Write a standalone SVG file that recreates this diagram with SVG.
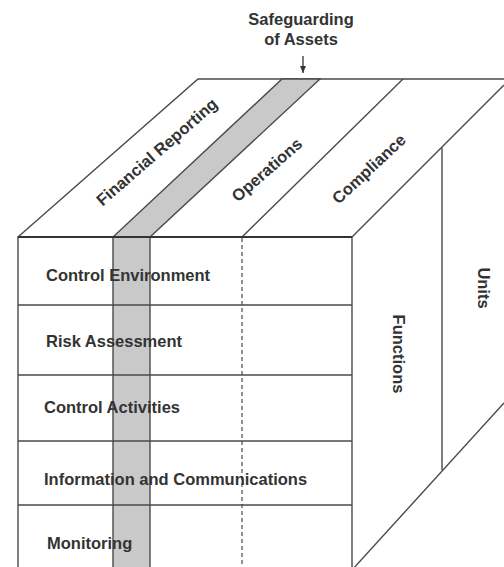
<svg xmlns="http://www.w3.org/2000/svg" width="504" height="567" viewBox="0 0 504 567">
<defs>
<style>
.ln{stroke:#4a4a4a;stroke-width:1.4;fill:none}
.band{fill:#c9c9c9;stroke:#4a4a4a;stroke-width:1.4}
.t{font-family:"Liberation Sans",Arial,sans-serif;font-weight:bold;font-size:16.5px;fill:#333}
</style>
<marker id="ah" markerWidth="8" markerHeight="8" refX="7" refY="4" orient="auto" markerUnits="userSpaceOnUse">
<path d="M0,1 L7,4 L0,7 Z" fill="#333"/>
</marker>
</defs>
<rect width="504" height="567" fill="#fff"/>
<g id="top-face">
<path class="ln" d="M18,237 L198,79 L504,79"/>
<polygon class="band" points="113,237 150,237 320,79 282,79"/>
<line class="ln" x1="242" y1="237" x2="403" y2="79"/>
<line class="ln" x1="352" y1="237" x2="504" y2="85"/>
</g>
<g id="front-face">
<rect x="113" y="237" width="37" height="332" class="band"/>
<path class="ln" d="M18,567 L18,237 L352,237 L352,570"/>
<line class="ln" x1="18" y1="237" x2="352" y2="237" style="stroke-width:2;stroke:#333"/>
<line class="ln" x1="18" y1="305" x2="352" y2="305"/>
<line class="ln" x1="18" y1="375" x2="352" y2="375"/>
<line class="ln" x1="18" y1="441" x2="352" y2="441"/>
<line class="ln" x1="18" y1="505" x2="352" y2="505"/>
<line class="ln" x1="242" y1="238" x2="242" y2="567" style="stroke-dasharray:4 3;stroke-width:1.2"/>
</g>
<g id="right-face">
<line class="ln" x1="352" y1="570" x2="504" y2="403"/>
<line class="ln" x1="442" y1="148" x2="442" y2="470"/>
</g>
<g id="connectors">
<line x1="303" y1="56" x2="303" y2="73" stroke="#333" stroke-width="1.3" marker-end="url(#ah)"/>
</g>
<g id="label-safeguarding">
<text class="t" x="301" y="25" text-anchor="middle">Safeguarding</text>
<text class="t" x="301" y="45" text-anchor="middle">of Assets</text>
</g>
<g id="label-financial">
<text class="t" text-anchor="middle" transform="translate(157,152) rotate(-41)" y="5.5">Financial Reporting</text>
</g>
<g id="label-operations">
<text class="t" text-anchor="middle" transform="translate(267,170) rotate(-41)" y="5.5">Operations</text>
</g>
<g id="label-compliance">
<text class="t" text-anchor="middle" transform="translate(369,169) rotate(-43)" y="5.5">Compliance</text>
</g>
<g id="row-control-environment"><text class="t" x="46" y="281">Control Environment</text></g>
<g id="row-risk-assessment"><text class="t" x="46" y="347">Risk Assessment</text></g>
<g id="row-control-activities"><text class="t" x="44" y="413">Control Activities</text></g>
<g id="row-information"><text class="t" x="44" y="485">Information and Communications</text></g>
<g id="row-monitoring"><text class="t" x="47" y="549">Monitoring</text></g>
<g id="label-functions">
<text class="t" text-anchor="middle" transform="translate(398,354) rotate(90)" y="5.5">Functions</text>
</g>
<g id="label-units">
<text class="t" text-anchor="middle" transform="translate(483,288) rotate(90)" y="5.5">Units</text>
</g>
</svg>
